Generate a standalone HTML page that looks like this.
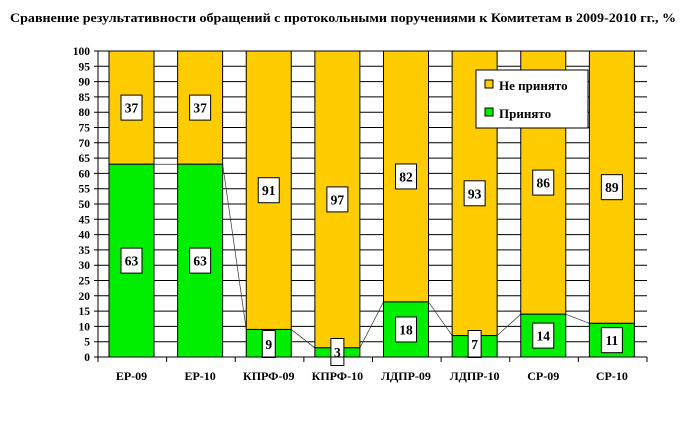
<!DOCTYPE html><html><head><meta charset="utf-8"><style>body{margin:0;background:#fff}svg{display:block}text{font-family:"Liberation Serif",serif;font-weight:bold}</style></head><body>
<svg width="687" height="432" viewBox="0 0 687 432" xmlns="http://www.w3.org/2000/svg">
<text x="343" y="22" text-anchor="middle" font-size="13" textLength="666" lengthAdjust="spacingAndGlyphs">Сравнение результативности обращений с протокольными поручениями к Комитетам в 2009-2010 гг., %</text>
<g id="g"></g>
<script>
const s='http://www.w3.org/2000/svg',g=document.getElementById('g');
function e(t,a,tx){const n=document.createElementNS(s,t);for(const k in a)n.setAttribute(k,a[k]);if(tx!=null)n.textContent=tx;g.appendChild(n);return n;}
const L=98,R=647,B=357,T=51,k=(B-T)/100,gw=(R-L)/8;
for(let v=0;v<=100;v+=5){const y=B-v*k;e('line',{x1:L-4,x2:R,y1:y,y2:y,stroke:'#000','stroke-width':1});e('text',{x:L-8,y:y+4,'text-anchor':'end','font-size':11.5},v);}
const d=[['ЕР-09',63],['ЕР-10',63],['КПРФ-09',9],['КПРФ-10',3],['ЛДПР-09',18],['ЛДПР-10',7],['СР-09',14],['СР-10',11]];
const lows={9:344,3:352,7:344};
d.forEach((a,i)=>{const x=L+i*gw+11,w=45,yt=B-a[1]*k;
e('rect',{x:x,y:T,width:w,height:yt-T,fill:'#ffcc00',stroke:'#000','stroke-width':1});
e('rect',{x:x,y:yt,width:w,height:B-yt,fill:'#00ee00',stroke:'#000','stroke-width':1});
e('line',{x1:L+i*gw,x2:L+i*gw,y1:B,y2:B+5,stroke:'#000'});
e('text',{x:x+w/2,y:B+23,'text-anchor':'middle','font-size':12},a[0]);
const lab=(v,cy)=>{const bw=v<10?13:21,bh=v<10?27:25;e('rect',{x:x+w/2-bw/2,y:cy-bh/2,width:bw,height:bh,fill:'#fff',stroke:'#000'});e('text',{x:x+w/2,y:cy+5,'text-anchor':'middle','font-size':13.5},v);};
lab(100-a[1],(T+yt)/2);
let cy=(yt+B)/2; if(a[1]<10)cy=lows[a[1]]; lab(a[1],cy);
if(i<7){const n=d[i+1];e('line',{x1:x+w,y1:yt,x2:x+gw,y2:B-n[1]*k,stroke:'#333','stroke-width':0.7});}
});
e('line',{x1:L,x2:L,y1:T,y2:B,stroke:'#000'});e('line',{x1:L,x2:R,y1:B,y2:B,stroke:'#000'});e('line',{x1:R,x2:R,y1:B,y2:B+5,stroke:'#000'});
e('rect',{x:476,y:70,width:112,height:58,fill:'#fff',stroke:'#000'});
e('rect',{x:485,y:80,width:8,height:8,fill:'#ffcc00',stroke:'#000'});e('text',{x:499,y:90,'font-size':13},'Не принято');
e('rect',{x:485,y:108,width:8,height:8,fill:'#00ee00',stroke:'#000'});e('text',{x:499,y:118,'font-size':13},'Принято');
</script></svg></body></html>
